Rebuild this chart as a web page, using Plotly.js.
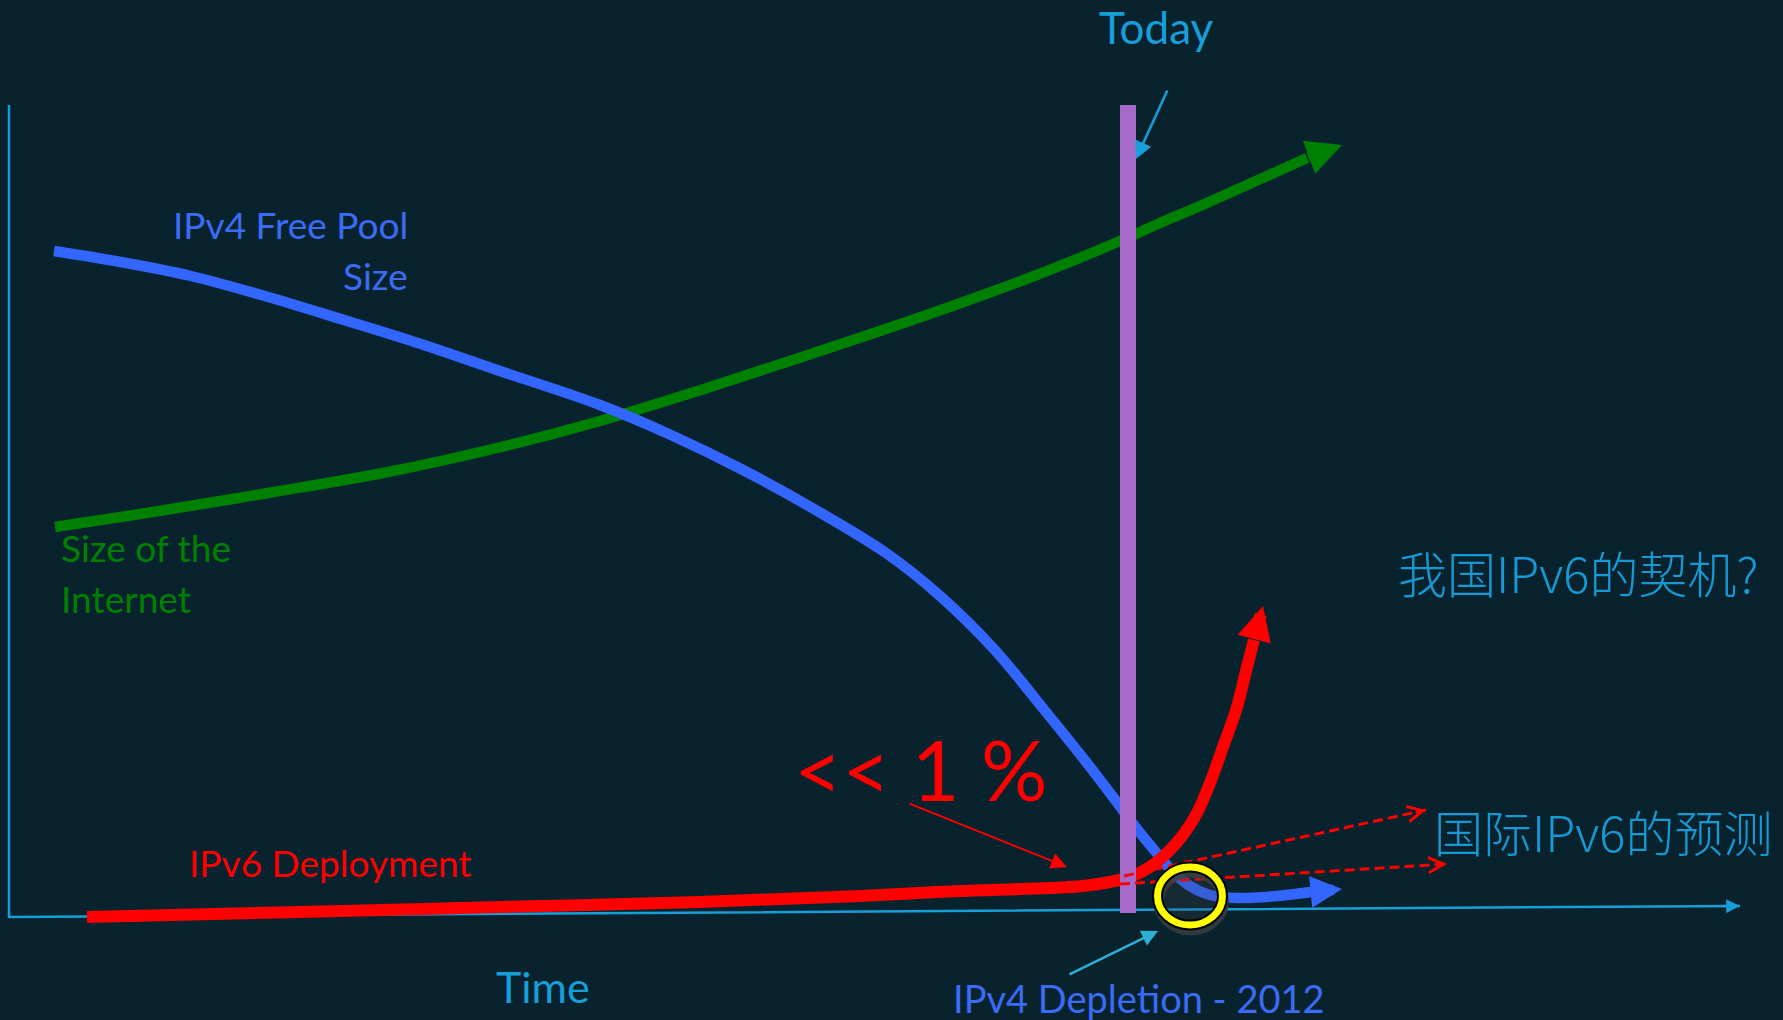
<!DOCTYPE html>
<html>
<head>
<meta charset="utf-8">
<script src="https://cdn.plot.ly/plotly-3.0.1.min.js"></script>
<style>
  html, body { margin: 0; padding: 0; background: #08232d; }
  #chart { width: 1783px; height: 1020px; }
</style>
</head>
<body>
<div id="chart"></div>
<script>
// Diagram space: x grows to the right, y grows downward (one unit per pixel).

// Size of the Internet
const internetX = [55, 153, 268, 383, 497, 600, 707, 814, 921, 1029, 1120, 1160, 1200, 1267, 1307];
const internetY = [527, 512, 493, 473, 448, 421, 388, 353, 317, 278, 241, 223, 206, 176, 158];
const internetTip = [1342, 145];

// IPv4 free pool size
const poolX = [54, 115, 191, 268, 344, 421, 497, 600, 671, 743, 814, 886, 939, 993, 1046, 1083, 1110, 1137, 1155, 1172, 1190, 1210, 1237, 1277, 1311];
const poolY = [251, 261, 276, 297, 320, 344, 370, 405, 435, 470, 509, 553, 595, 648, 712, 758, 793, 829, 851, 871, 886, 895, 898, 896, 892];
const poolTip = [1342, 889];

// IPv6 deployment
const v6X = [87, 300, 500, 700, 860, 960, 1050, 1083, 1110, 1130, 1150, 1170, 1183, 1197, 1210, 1223, 1237, 1247, 1254];
const v6Y = [917, 912, 907, 902, 896, 891, 888, 886, 882, 877, 867, 850, 835, 813, 783, 747, 707, 667, 640];
const v6Tip = [1263, 606];

// International IPv6 forecasts (dashed)
const forecastHighX = [1124, 1426];
const forecastHighY = [876, 810];
const forecastLowX = [1120, 1447];
const forecastLowY = [884, 864];

// "Today" marker bar
const todayX = [1128, 1128];
const todayY = [105, 913];

// Axes: vertical value axis, then the time axis
const axisX = [9, 9, 1740];
const axisY = [105, 917, 906];

// IPv4 depletion ring: centre and radii
const depletionCenter = [1190, 896];
const depletionRadius = [32.5, 29];

// Pointer arrows: [tailX, tailY, tipX, tipY]
const todayPointer = [1168, 89, 1136, 159];
const sharePointer = [908, 803, 1067, 867];
const depletionPointer = [1068, 975, 1158, 931];

const BG = '#08232d';
const CYAN = '#169fd9';
const BLUE = '#3366ff';
const BLUE_TEXT = '#3b6cf5';
const GREEN = '#008000';
const RED = '#ff0000';
const PURPLE = '#a66bc9';
const CN_CYAN = '#1799d3';

function curve(x, y, color, width) {
  return { type: 'scatter', mode: 'lines', x, y, hoverinfo: 'skip',
    line: { color, width, shape: 'spline', smoothing: 1 } };
}
function straight(x, y, color, width, dash) {
  return { type: 'scatter', mode: 'lines', x, y, hoverinfo: 'skip',
    line: { color, width, dash: dash || 'solid' } };
}

const traces = [
  straight(axisX, axisY, CYAN, 2.5),
  curve(internetX, internetY, GREEN, 10.5),
  curve(poolX, poolY, BLUE, 10.5),
  curve(v6X, v6Y, RED, 12),
  straight(todayX, todayY, PURPLE, 16),
  straight(forecastHighX, forecastHighY, RED, 3, '10px,5px'),
  straight(forecastLowX, forecastLowY, RED, 3, '10px,5px')
];

function arrow(tailX, tailY, tipX, tipY, color, width, head, size) {
  return { x: tipX, y: tipY, ax: tailX, ay: tailY,
    xref: 'x', yref: 'y', axref: 'x', ayref: 'y',
    text: '', showarrow: true, arrowhead: head, arrowsize: size,
    arrowwidth: width, arrowcolor: color, standoff: 0, startstandoff: 0 };
}
function last(a) { return a[a.length - 1]; }
// point a short distance back from the end of a polyline, along its last segment
function backFromEnd(xs, ys, d) {
  const n = xs.length;
  const dx = xs[n - 2] - xs[n - 1], dy = ys[n - 2] - ys[n - 1];
  const L = Math.hypot(dx, dy);
  return [xs[n - 1] + dx / L * d, ys[n - 1] + dy / L * d];
}

function label(text, x, y, color, size, xanchor, font) {
  return { text, x, y, xref: 'x', yref: 'y', showarrow: false,
    xanchor: xanchor || 'center', yanchor: 'middle',
    font: Object.assign({ family: 'Lato, "Open Sans", sans-serif', size, color }, font || {}) };
}

const hiTail = backFromEnd(forecastHighX, forecastHighY, 12);
const loTail = backFromEnd(forecastLowX, forecastLowY, 12);
const axTail = backFromEnd(axisX, axisY, 20);
const CJK = { family: '"Noto Sans CJK SC", sans-serif', weight: 300 };

const annotations = [
  // arrowheads
  arrow(last(internetX), last(internetY), internetTip[0], internetTip[1], GREEN, 10.5, 2, 0.67),
  arrow(last(poolX), last(poolY), poolTip[0], poolTip[1], BLUE, 10.5, 2, 0.6),
  arrow(last(v6X), last(v6Y), v6Tip[0], v6Tip[1], RED, 12, 2, 0.57),
  arrow(hiTail[0], hiTail[1], last(forecastHighX), last(forecastHighY), RED, 3, 5, 1),
  arrow(loTail[0], loTail[1], last(forecastLowX), last(forecastLowY), RED, 3, 5, 1),
  arrow(axTail[0], axTail[1], last(axisX), last(axisY), CYAN, 2.5, 2, 1.1),
  // pointers
  arrow(todayPointer[0], todayPointer[1], todayPointer[2], todayPointer[3], CYAN, 2.5, 2, 1.4),
  arrow(sharePointer[0], sharePointer[1], sharePointer[2], sharePointer[3], RED, 2, 2, 1.6),
  arrow(depletionPointer[0], depletionPointer[1], depletionPointer[2], depletionPointer[3], '#2cb0d4', 2.5, 2, 1.3),
  // labels
  label('Today', 1156, 27, CYAN, 44),
  label('IPv4 Free Pool', 410, 224, BLUE_TEXT, 37, 'right'),
  label('Size', 410, 275, BLUE_TEXT, 37, 'right'),
  label('Size of the', 59, 547, GREEN, 37, 'left'),
  label('Internet', 59, 598, GREEN, 37, 'left'),
  label('IPv6 Deployment', 187, 862, RED, 37, 'left'),
  label('Time', 543, 986, CYAN, 43),
  label('IPv4 Depletion - 2012', 1139, 998, BLUE_TEXT, 38),
  label('&lt;&lt; 1 %', 920, 769, RED, 83),
  label('我国IPv6的契机?', 1578, 571, CN_CYAN, 49, 'center', CJK),
  label('国际IPv6的预测', 1603, 830, CN_CYAN, 49, 'center', CJK)
];

function ellipse(cx, cy, rx, ry, color, width, fill) {
  return { type: 'circle', xref: 'x', yref: 'y', layer: 'above',
    x0: cx - rx, x1: cx + rx, y0: cy - ry, y1: cy + ry,
    line: { color, width }, fillcolor: fill || 'rgba(0,0,0,0)' };
}
const [cx, cy] = depletionCenter;
const [rx, ry] = depletionRadius;
const shapes = [
  ellipse(cx + 1, cy + 5, rx, ry, 'rgba(55,62,66,0.85)', 11),
  ellipse(cx, cy, rx, ry, '#000000', 11, 'rgba(70,70,70,0.22)'),
  ellipse(cx, cy, rx, ry, '#ffff00', 7)
];

const layout = {
  width: 1783, height: 1020,
  margin: { l: 0, r: 0, t: 0, b: 0, pad: 0 },
  paper_bgcolor: BG, plot_bgcolor: BG,
  showlegend: false, hovermode: false,
  xaxis: { range: [0, 1783], visible: false, fixedrange: true },
  yaxis: { range: [1020, 0], visible: false, fixedrange: true },
  annotations, shapes
};

Plotly.newPlot('chart', traces, layout, { staticPlot: true, displayModeBar: false });
</script>
</body>
</html>
